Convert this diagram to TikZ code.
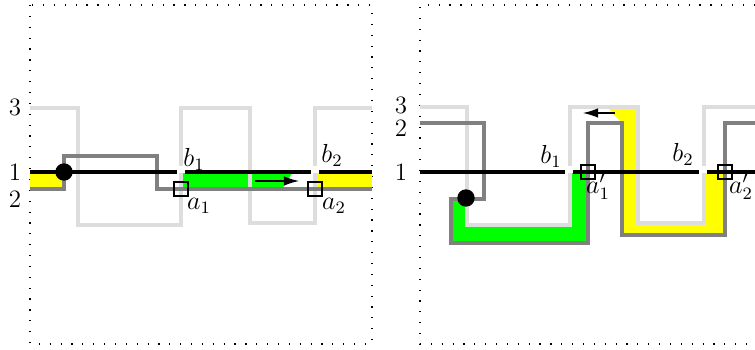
\documentclass[tikz,border=0pt]{standalone}
\usetikzlibrary{arrows.meta}
\definecolor{lgray}{RGB}{221,221,221}
\definecolor{mgray}{RGB}{128,128,128}
\definecolor{hlgreen}{RGB}{0,255,0}
\definecolor{hlyellow}{RGB}{255,255,0}
\begin{document}
\begin{tikzpicture}[x=0.46pt,y=-0.46pt,
  every node/.style={font=\fontsize{11.5}{14}\selectfont},
  panelframe/.style={line width=0.55pt, dash pattern=on 0.55pt off 4.45pt},
  track/.style={line width=1.45pt, line join=miter},
  level1/.style={track, black},
  level2/.style={track, mgray},
  level3/.style={track, lgray},
  crossmark/.style={draw, line width=1pt, minimum size=6.6pt, inner sep=0pt},
  origin/.style={circle, fill=black, minimum size=8pt, inner sep=0pt},
  flow/.style={line width=0.6pt, -{Latex[length=7pt,width=4.4pt]}},
  gap/.style={fill=white}
]
\useasboundingbox (0,0) rectangle (755,350);

% ---------- left panel ----------
\draw[panelframe] (30,5) rectangle (372,344);

% highlighted bands
\fill[hlyellow] (30,172) rectangle (64,189);
\fill[hlgreen] (181,172) -- (293,172) -- (282,189) -- (181,189) -- cycle;
\fill[hlyellow] (315,172) rectangle (372,189);

% level 3
\draw[level3] (30,108) -- (78,108) -- (78,225) -- (181,225) -- (181,108)
  -- (250,108) -- (250,223) -- (315,223) -- (315,108) -- (372,108);
% level 2
\draw[level2] (30,189) -- (64,189) -- (64,156) -- (157,156) -- (157,189) -- (372,189);
% level 1
\draw[level1] (30,172) -- (177,172);
\draw[level1] (185,172) -- (311,172);
\draw[level1] (319,172) -- (372,172);
\fill[gap] (177.5,166) rectangle (184.5,173.5);
\fill[gap] (311.5,166) rectangle (318.5,173.5);

\node[origin] (oL) at (64,172) {};
\node[crossmark] (a1) at (181,189) {};
\node[crossmark] (a2) at (315,189) {};
\coordinate (fL0) at (255,181);
\coordinate (fL1) at (299,181);
\draw[flow] (fL0) -- (fL1);

\node (l3L) at (15,107) {3};
\node (l1L) at (15,172) {1};
\node (l2L) at (15,199) {2};
\node (b1L) at (194,159) {$b_1$};
\node (a1L) at (199,206) {$a_1$};
\node (b2L) at (332,155) {$b_2$};
\node (a2L) at (334,206) {$a_2$};

% ---------- right panel ----------
\draw[panelframe] (755,5) -- (420,5) -- (420,344) -- (755,344);

\fill[hlgreen] (451,199) -- (467,199) -- (467,225) -- (570,225) -- (570,172)
  -- (588,172) -- (588,243) -- (451,243) -- cycle;
\fill[hlyellow] (607,107) -- (638,107) -- (638,223) -- (704,223) -- (704,172)
  -- (725,172) -- (725,235) -- (622,235) -- (622,123) -- cycle;

\draw[level3] (420,107) -- (467,107) -- (467,225) -- (570,225) -- (570,107)
  -- (638,107) -- (638,223) -- (704,223) -- (704,107) -- (755,107);
\draw[level2] (420,123) -- (484,123) -- (484,199) -- (451,199) -- (451,243)
  -- (588,243) -- (588,123) -- (622,123) -- (622,235) -- (725,235)
  -- (725,123) -- (755,123);
\draw[level1] (420,172) -- (565,172);
\draw[level1] (573,172) -- (699,172);
\draw[level1] (707,172) -- (755,172);
\fill[gap] (565.5,166) rectangle (572.5,173.5);
\fill[gap] (699.5,166) rectangle (706.5,173.5);

\node[origin] (oR) at (466,198) {};
\node[crossmark] (a1p) at (588,172) {};
\node[crossmark] (a2p) at (725,172) {};
\coordinate (fR0) at (615,113);
\coordinate (fR1) at (583,113);
\draw[flow] (fR0) -- (fR1);

\node (l3R) at (401,105) {3};
\node (l2R) at (401,128) {2};
\node (l1R) at (401,172) {1};
\node (b1R) at (551,156) {$b_1$};
\node (a1pL) at (598,187) {$a'_1$};
\node (b2R) at (683,154) {$b_2$};
\node (a2pL) at (741,187) {$a'_2$};
\end{tikzpicture}
\end{document}
